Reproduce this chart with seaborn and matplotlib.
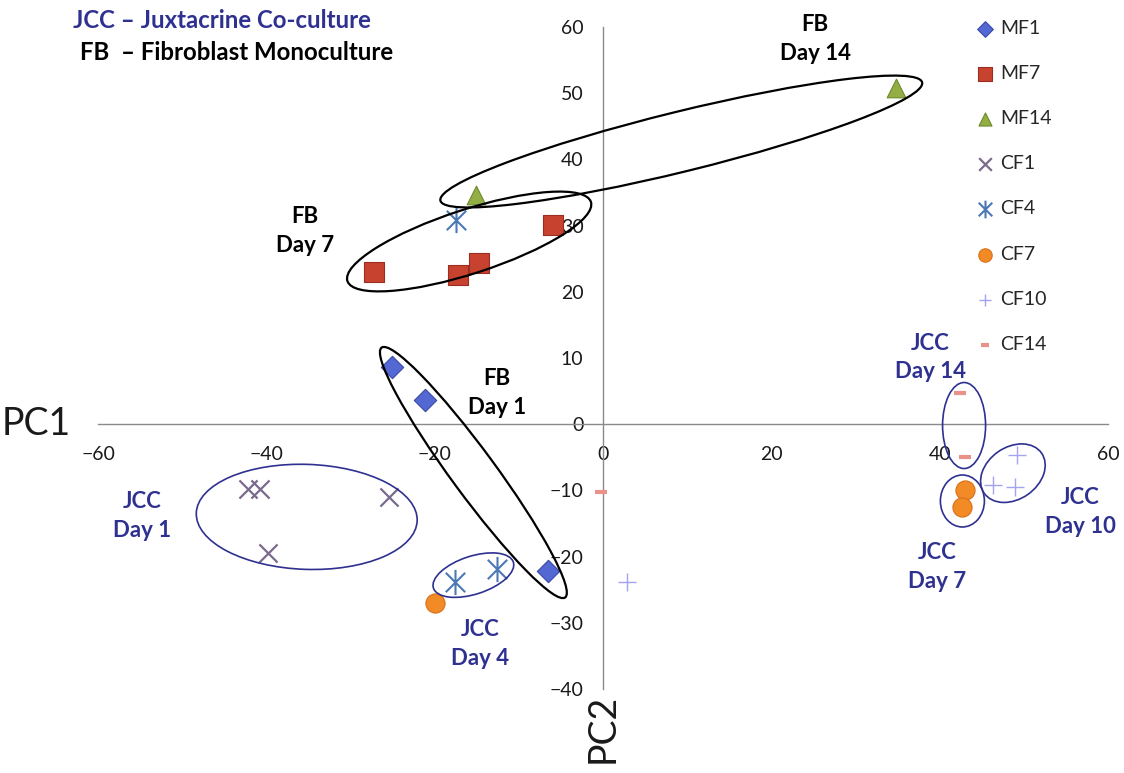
import numpy as np
import pandas as pd
import matplotlib
matplotlib.use("Agg")
import matplotlib.pyplot as plt
from matplotlib.patches import Ellipse
from matplotlib.path import Path
from matplotlib.transforms import ScaledTranslation
import seaborn as sns

# ---- PCA scores per sample group (PC1, PC2) ----
mf1_x = [-25.1, -21.1, -6.5]
mf1_y = [8.6, 3.6, -22.2]
mf7_x = [-27.2, -17.2, -14.7, -5.9]
mf7_y = [23.0, 22.5, 24.3, 30.1]
mf14_x = [-15.1, 34.8]
mf14_y = [34.6, 50.8]
cf1_x = [-42.2, -40.8, -25.4, -39.8]
cf1_y = [-9.8, -9.8, -11.0, -19.5]
cf4_x = [-17.6, -12.6, -17.5]
cf4_y = [-23.9, -21.8, 30.8]
cf7_x = [-20.0, 43.0, 42.7]
cf7_y = [-27.0, -10.0, -12.5]
cf10_x = [49.2, 46.3, 49.0, 2.9]
cf10_y = [-4.7, -9.2, -9.5, -23.9]
cf14_x = [42.4, 43.0, -0.2]
cf14_y = [4.7, -5.0, -10.3]

series_names = ["MF1", "MF7", "MF14", "CF1", "CF4", "CF7", "CF10", "CF14"]
x_ticks = [-60, -40, -20, 0, 20, 40, 60]
y_ticks = [-40, -30, -20, -10, 0, 10, 20, 30, 40, 50, 60]

# group labels: (text, x, y, colour)
NAVY = "#2E3190"
group_labels = [
    ("FB\nDay 14", 25.2, 58.2, "black"),
    ("FB\nDay 7", -35.4, 29.2, "black"),
    ("FB\nDay 1", -12.6, 4.7, "black"),
    ("JCC\nDay 1", -54.8, -13.9, NAVY),
    ("JCC\nDay 4", -14.6, -33.2, NAVY),
    ("JCC\nDay 14", 38.9, 10.1, NAVY),
    ("JCC\nDay 7", 39.7, -21.6, NAVY),
    ("JCC\nDay 10", 56.7, -13.3, NAVY),
]

# grouping ellipses: centre (data), width/height (pixels), angle (deg), colour
group_ellipses = [
    (9.3, 42.7, 496, 60, 13.8, "black"),
    (-15.9, 27.6, 256, 64, 18.0, "black"),
    (-15.4, -7.3, 310, 44, -53.7, "black"),
    (-35.2, -14.0, 221, 105, -2, NAVY),
    (-15.4, -22.8, 84, 38, 18, NAVY),
    (42.9, -0.2, 43, 86, 0, NAVY),
    (42.7, -11.6, 44, 52, 0, NAVY),
    (48.7, -7.4, 70, 52, 35, NAVY),
]

frames = []
for name, xs, ys in zip(series_names,
                        [mf1_x, mf7_x, mf14_x, cf1_x, cf4_x, cf7_x, cf10_x, cf14_x],
                        [mf1_y, mf7_y, mf14_y, cf1_y, cf4_y, cf7_y, cf10_y, cf14_y]):
    frames.append(pd.DataFrame({"PC1": xs, "PC2": ys, "group": name}))
df = pd.concat(frames, ignore_index=True)

# asterisk marker: X plus a vertical bar
asterisk = Path([(-1, -1), (1, 1), (-1, 1), (1, -1), (0, -1.3), (0, 1.3)],
                [Path.MOVETO, Path.LINETO, Path.MOVETO, Path.LINETO, Path.MOVETO, Path.LINETO])

styles = {
    "MF1": dict(marker="D", s=130, color="#5468D4", edgecolor="#3A4AA6", linewidth=0.8),
    "MF7": dict(marker="s", s=200, color="#C8432F", edgecolor="#9A2E22", linewidth=0.8),
    "MF14": dict(marker="^", s=180, color="#93AE45", edgecolor="#6E8A2A", linewidth=0.8),
    "CF1": dict(marker="x", s=170, color="#7B6A8E", linewidth=1.6),
    "CF4": dict(marker=asterisk, s=330, color="#4C78B5", edgecolor="#4C78B5", linewidth=1.5),
    "CF7": dict(marker="o", s=190, color="#F28A26", edgecolor="#D9701A", linewidth=0.8),
    "CF10": dict(marker="+", s=150, color="#A3A3EE", linewidth=1.0),
    "CF14": dict(marker="_", s=70, color="#E8928A", linewidth=3.0),
}

sns.set_theme(style="white")
plt.rcParams["font.family"] = ["Lato", "DejaVu Sans"]

fig = plt.figure(figsize=(11.24, 7.73), dpi=100)
ax = fig.add_axes([98 / 1124, 1 - 689 / 773, 1010 / 1124, 662 / 773])

for name in series_names:
    sub = df[df["group"] == name]
    sns.scatterplot(data=sub, x="PC1", y="PC2", ax=ax, label=name, zorder=3,
                    **styles[name])

ax.set_xlim(-60, 60)
ax.set_ylim(-40, 60)
ax.set_xticks(x_ticks)
ax.set_yticks(y_ticks)
ax.set_xlabel("")
ax.set_ylabel("")

for side in ["top", "right"]:
    ax.spines[side].set_visible(False)
ax.spines["left"].set_position(("data", 0))
ax.spines["bottom"].set_position(("data", 0))
for side in ["left", "bottom"]:
    ax.spines[side].set_color("#8A8A8A")
    ax.spines[side].set_linewidth(1.0)
ax.tick_params(axis="both", direction="out", length=4, width=1.0, color="#8A8A8A",
               labelsize=14, labelcolor="#1a1a1a", pad=10)
ax.tick_params(axis="x", pad=12)
ax.grid(False)

# grouping ellipses sized in screen pixels, positioned in data space
for cx, cy, w, h, ang, col in group_ellipses:
    tr = fig.dpi_scale_trans + ScaledTranslation(cx, cy, ax.transData)
    e = Ellipse((0, 0), w / 100, h / 100, angle=ang, transform=tr, fill=False,
                edgecolor=col, linewidth=1.6 if col == "black" else 1.2, zorder=4)
    ax.add_patch(e)

for txt, x, y, col in group_labels:
    ax.text(x, y, txt, ha="center", va="center", fontsize=16, fontweight="bold",
            color=col, linespacing=1.45, zorder=5)

# key for abbreviations
fig.text(73 / 1124, 1 - 20 / 773, "JCC – Juxtacrine Co-culture", ha="left", va="center",
         fontsize=17.3, fontweight="bold", color=NAVY)
fig.text(80 / 1124, 1 - 52 / 773, "FB  – Fibroblast Monoculture", ha="left", va="center",
         fontsize=17.3, fontweight="bold", color="black")

# axis titles
fig.text(36 / 1124, 1 - 424 / 773, "PC1", ha="center", va="center", fontsize=27,
         color="#1a1a1a")
fig.text(603 / 1124, 1 - 728 / 773, "PC2", ha="center", va="center", fontsize=27,
         rotation=90, color="#1a1a1a")

leg = ax.legend(loc="upper left", bbox_to_anchor=(967 / 1124, 1 - 10 / 773),
                bbox_transform=fig.transFigure, frameon=False, fontsize=14,
                labelspacing=1.45, handlelength=0.9, handletextpad=0.3, borderpad=0,
                markerscale=0.7)

fig.savefig("out.png", dpi=100)
